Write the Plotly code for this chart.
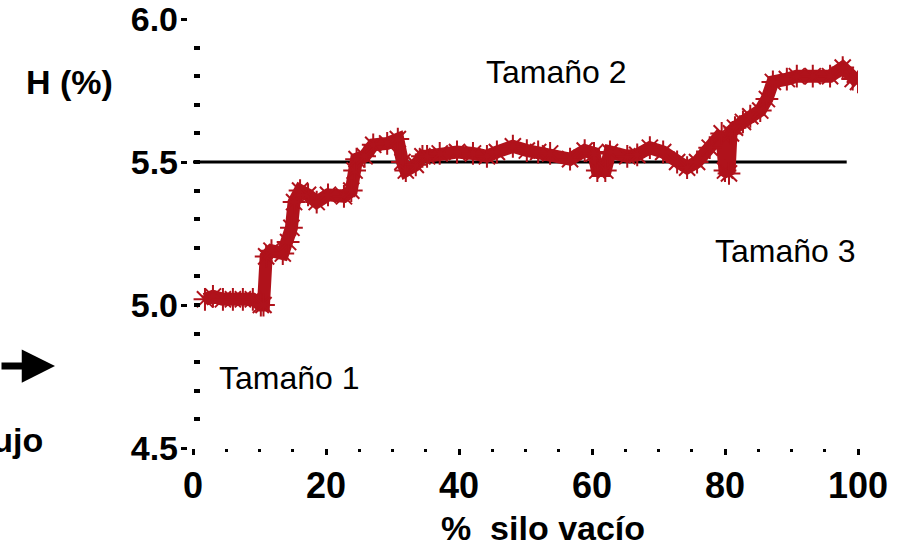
import plotly.graph_objects as go

# ---- data ----
silo_pct = [1.8, 3.0, 4.5, 6.0, 7.5, 9.0, 10.2, 10.6, 11.0, 11.8, 13.5, 14.3, 14.8, 15.2,
            16.1, 17.3, 18.6, 20.3, 22.7, 23.8, 24.3, 24.6, 25.8, 27.1, 29.2, 30.8, 31.5,
            32.0, 33.5, 34.5, 35.2, 37.1, 39.7, 42.1, 44.2, 45.7, 48.1, 50.2, 51.9, 53.7,
            56.7, 58.9, 60.3, 60.8, 62.0, 62.7, 65.3, 66.8, 68.7, 70.7, 72.8, 74.3, 75.8,
            77.7, 79.5, 80.0, 80.6, 80.9, 81.5, 82.7, 83.8, 85.3, 86.3, 87.2, 89.3, 90.8,
            93.2, 95.8, 97.7, 99.2, 100.0]
humedad = [5.02, 5.03, 5.02, 5.02, 5.02, 5.02, 5.00, 5.00, 5.17, 5.19, 5.18, 5.22, 5.27, 5.36,
           5.40, 5.385, 5.36, 5.385, 5.38, 5.40, 5.47, 5.51, 5.52, 5.56, 5.565, 5.58, 5.50,
           5.47, 5.49, 5.52, 5.52, 5.53, 5.535, 5.53, 5.52, 5.535, 5.555, 5.54, 5.535, 5.53,
           5.51, 5.54, 5.53, 5.47, 5.47, 5.535, 5.52, 5.525, 5.55, 5.535, 5.50, 5.48, 5.50,
           5.55, 5.60, 5.47, 5.46, 5.60, 5.62, 5.64, 5.66, 5.68, 5.72, 5.78, 5.79, 5.80,
           5.80, 5.80, 5.83, 5.79, 5.78]
ref_x = [0, 98.3]
ref_y = [5.5, 5.5]
x_ticks = [0, 20, 40, 60, 80, 100]
y_ticks = [4.5, 5.0, 5.5, 6.0]
y_labels = ["4.5", "5.0", "5.5", "6.0"]

RED = "#b0121b"
BOLD = "Liberation Sans"
NARROW = "Liberation Sans Narrow, Liberation Sans, Arial"

fig = go.Figure()
fig.add_trace(go.Scatter(x=ref_x, y=ref_y, mode="lines",
                         line=dict(color="black", width=3), showlegend=False))
fig.add_trace(go.Scatter(x=silo_pct, y=humedad, mode="lines+markers",
                         line=dict(color=RED, width=13),
                         marker=dict(symbol="asterisk-open", size=19, color=RED,
                                     line=dict(color=RED, width=2)),
                         showlegend=False))
# invisible trace to create the second y-axis (tick dashes)
fig.add_trace(go.Scatter(x=[None], y=[None], yaxis="y2", showlegend=False))

W, H = 908, 547
ml, mr, mt, mb = 180, 50, 19, 99
pw = W - ml - mr
ph = H - mt - mb
d0 = 13 / pw

fig.update_layout(
    width=W, height=H,
    margin=dict(l=ml, r=mr, t=mt, b=mb, autoexpand=False),
    plot_bgcolor="white", paper_bgcolor="white",
    xaxis=dict(domain=[d0, 1], range=[0, 100], showgrid=False, zeroline=False,
               showline=False, tickvals=x_ticks, ticks="outside", ticklen=6,
               tickwidth=3, tickcolor="black", ticklabelstandoff=0, automargin=False,
               ticklabeloverflow="allow",
               minor=dict(dtick=5, ticks="outside", ticklen=3, tickwidth=3,
                          tickcolor="black", showgrid=False),
               tickfont=dict(family=NARROW, size=36, color="black", weight="bold")),
    yaxis=dict(range=[4.5, 6.0], anchor="free", position=d0, showgrid=False,
               zeroline=False, showline=False, tickvals=y_ticks, ticktext=y_labels,
               ticks="inside", ticklen=6, tickwidth=4, tickcolor="black",
               ticklabelstandoff=15, automargin=False, ticklabeloverflow="allow",
               minor=dict(dtick=0.1, ticks="inside", ticklen=6, tickwidth=4,
                          tickcolor="black", showgrid=False),
               tickfont=dict(family=BOLD, size=34, color="black", weight="bold")),
    yaxis2=dict(range=[4.5, 6.0], overlaying="y", anchor="free", position=7 / pw,
                showgrid=False, zeroline=False, showline=False, tickvals=y_ticks,
                showticklabels=False, ticks="outside", ticklen=6, tickwidth=3,
                tickcolor="black", automargin=False),
)

def px(xp):
    return (xp - ml) / pw

def py(yp):
    return (H - mb - yp) / ph

anns = [
    dict(text="Tamaño 2", x=54.7, y=5.815, xref="x", yref="y", showarrow=False,
         font=dict(family="Liberation Sans", size=32, color="black")),
    dict(text="Tamaño 3", x=100, y=5.19, xref="x", yref="y", xanchor="right",
         showarrow=False, font=dict(family="Liberation Sans", size=32, color="black")),
    dict(text="Tamaño 1", x=3.6, y=4.745, xref="x", yref="y", xanchor="left",
         showarrow=False, font=dict(family="Liberation Sans", size=32, color="black")),
    dict(text="H (%)", x=px(70), y=py(82), xref="paper", yref="paper",
         xanchor="center", yanchor="middle", showarrow=False,
         font=dict(family=BOLD, size=34, color="black", weight="bold")),
    dict(text="%  silo vacío", x=px(543), y=py(528), xref="paper", yref="paper",
         xanchor="center", yanchor="middle", showarrow=False,
         font=dict(family=NARROW, size=34, color="black", weight="bold")),
    dict(text="Flujo", x=px(45), y=py(440), xref="paper", yref="paper",
         xanchor="right", yanchor="middle", showarrow=False,
         font=dict(family=BOLD, size=34, color="black", weight="bold")),
    dict(text="", x=px(55), y=py(366), xref="paper", yref="paper",
         showarrow=True, ax=-70, ay=0, arrowhead=2, arrowwidth=7, arrowsize=0.95,
         arrowcolor="black", standoff=0, startstandoff=0),
]
fig.update_layout(annotations=anns)

fig.write_html("out.html")
